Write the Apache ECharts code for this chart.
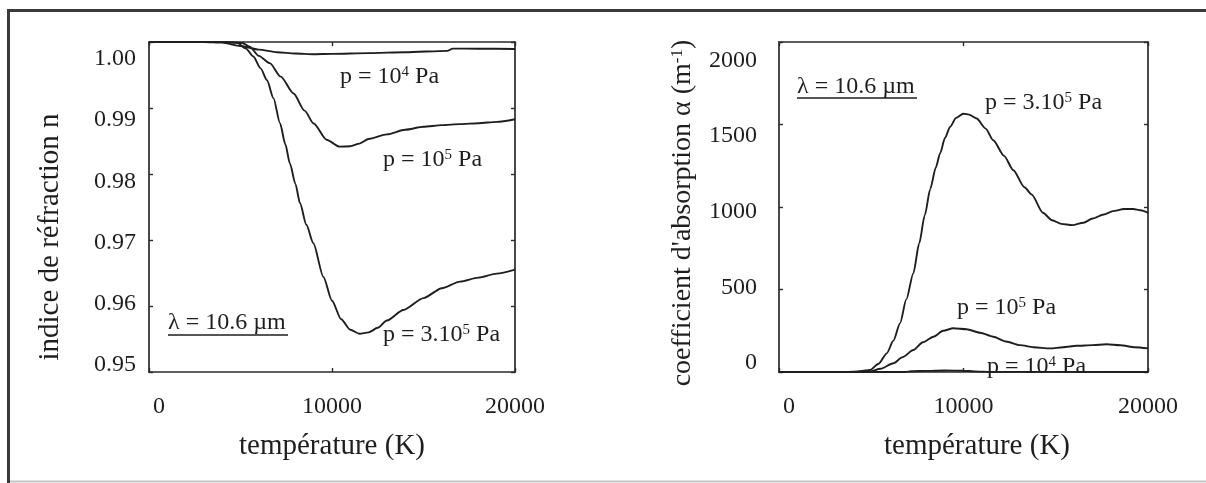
<!DOCTYPE html>
<html>
<head>
<meta charset="utf-8">
<script src="https://cdn.jsdelivr.net/npm/echarts@6/dist/echarts.min.js"></script>
<style>
html,body{margin:0;padding:0;background:#fff;}
#chart{width:1206px;height:483px;}
</style>
</head>
<body>
<div id="chart"></div>
<script>
// ---------- data ----------
// Left panel: refractive index n vs temperature (K)
var tN4 = [0, 3000, 4000, 5000, 6000, 7000, 8000, 9000, 10000, 12000, 14000, 16300, 16600, 18000, 20000];
var nP4 = [1.0000, 1.0000, 0.99990, 0.99940, 0.99885, 0.99845, 0.99825, 0.99815, 0.99820, 0.99832, 0.99845, 0.99866, 0.99900, 0.99898, 0.99895];

var tN5 = [0, 4000, 5100, 5500, 6000, 6600, 7200, 7900, 8500, 9000, 9700, 10400, 11000, 11500, 12000, 13000, 14000, 15000, 16000, 17000, 18000, 19000, 20000];
var nP5 = [1.0000, 1.0000, 0.99985, 0.99930, 0.99790, 0.99680, 0.99475, 0.99220, 0.98960, 0.98765, 0.98520, 0.98415, 0.98420, 0.98460, 0.98530, 0.98600, 0.98670, 0.98715, 0.98740, 0.98755, 0.98770, 0.98790, 0.98830];

var tN3 = [0, 4000, 4800, 5300, 5700, 6100, 6450, 6800, 7160, 7450, 7700, 8000, 8250, 8600, 8980, 9530, 10000, 10500, 11000, 11500, 12000, 12500, 13000, 13900, 15000, 16000, 17000, 18000, 19000, 20000];
var nP3 = [1.0000, 1.0000, 0.99990, 0.99900, 0.99780, 0.99600, 0.99420, 0.99150, 0.98770, 0.98450, 0.98160, 0.97850, 0.97560, 0.97230, 0.96950, 0.96440, 0.96080, 0.95800, 0.95640, 0.95580, 0.95600, 0.95670, 0.95780, 0.95940, 0.96120, 0.96270, 0.96370, 0.96430, 0.96490, 0.96550];

// Right panel: absorption coefficient alpha (m^-1) vs temperature (K)
var tA3 = [0, 3500, 4000, 4500, 4930, 5400, 5840, 6200, 6560, 6900, 7280, 7600, 7900, 8200, 8500, 8730, 9000, 9270, 9600, 9990, 10300, 10710, 11200, 11610, 12200, 12700, 13300, 13700, 14300, 14800, 15300, 15900, 16500, 17000, 17600, 18100, 18700, 19200, 19600, 20000];
var aP3 = [0, 0, 2, 6, 12, 50, 113, 190, 295, 440, 598, 780, 950, 1110, 1240, 1324, 1420, 1485, 1540, 1565, 1560, 1536, 1475, 1405, 1310, 1223, 1120, 1075, 965, 920, 898, 890, 905, 930, 955, 975, 988, 988, 980, 965];

var tA5 = [0, 4500, 4930, 5500, 6200, 6700, 7280, 7800, 8370, 8900, 9450, 10170, 10900, 11610, 12300, 13060, 13800, 14690, 15400, 16130, 17000, 17750, 18500, 19300, 20000];
var aP5 = [0, 0, 3, 20, 53, 90, 133, 180, 214, 250, 265, 259, 238, 214, 185, 163, 150, 143, 150, 159, 163, 168, 162, 150, 143];

var tA4 = [0, 6800, 7200, 8000, 9000, 10000, 10600, 11500, 20000];
var aP4 = [0, 0, 5, 7, 9, 8, 4, 1, 0];

// tick labels
var nTicks = [0.95, 0.96, 0.97, 0.98, 0.99, 1.00];
var aTicks = [0, 500, 1000, 1500, 2000];
var tempTicks = [0, 10000, 20000];

// ---------- chart ----------
function pairs(xs, ys) { return xs.map(function (x, i) { return [x, ys[i]]; }); }

var FONT = 'Liberation Serif';
var INK = '#1e1e1e';
var LINE = '#1e1e1e';

var chart = echarts.init(document.getElementById('chart'), null, {renderer: 'canvas'});

var axLine = {show: true, onZero: false, lineStyle: {color: '#2a2a2a', width: 1.7}};
var axTick = {show: true, inside: true, length: 4, lineStyle: {color: '#2a2a2a', width: 1.4}};

function xAxisBottom(grid, titlePad) {
  return {
    type: 'value', gridIndex: grid, position: 'bottom',
    min: 0, max: 20000, interval: 10000,
    axisLine: axLine, axisTick: axTick,
    splitLine: {show: false},
    axisLabel: {
      show: true, margin: 23, color: INK, fontFamily: FONT, fontSize: 24,
      customValues: tempTicks,
      formatter: function (v) { return v === 0 ? '{z|0}' : String(v); },
      rich: {z: {padding: [0, 0, 0, 20], fontFamily: FONT, fontSize: 24, color: INK}}
    },
    name: 'température (K)', nameLocation: 'middle', nameGap: 60,
    nameTextStyle: {fontFamily: FONT, fontSize: 29, color: INK, padding: [0, 0, 0, titlePad]}
  };
}
function xAxisTop(grid) {
  return {
    type: 'value', gridIndex: grid, position: 'top',
    min: 0, max: 20000, interval: 10000,
    axisLine: axLine, axisTick: axTick,
    splitLine: {show: false}, axisLabel: {show: false}
  };
}
function yMirror(grid, min, max, interval) {
  return {
    type: 'value', gridIndex: grid, position: 'right',
    min: min, max: max, interval: interval,
    axisLine: axLine, axisTick: axTick,
    splitLine: {show: false}, axisLabel: {show: false}
  };
}
function yLabelAxis(grid, min, max, values, digits, margin) {
  return {
    type: 'value', gridIndex: grid, position: 'left',
    min: min, max: max,
    axisLine: {show: false, onZero: false}, axisTick: {show: false}, splitLine: {show: false},
    axisLabel: {
      show: true, customValues: values, margin: margin,
      color: INK, fontFamily: FONT, fontSize: 24,
      formatter: function (v) { return v.toFixed(digits); }
    }
  };
}

var option = {
  backgroundColor: '#ffffff',
  animation: false,
  grid: [
    {left: 149, right: 1206 - 515, top: 42, bottom: 483 - 372, containLabel: false},
    {left: 779, right: 1206 - 1148, top: 42, bottom: 483 - 372, containLabel: false}
  ],
  xAxis: [
    xAxisBottom(0, 0),
    xAxisTop(0),
    xAxisBottom(1, 27),
    xAxisTop(1)
  ],
  yAxis: [
    { // 0: left panel data axis
      type: 'value', gridIndex: 0, position: 'left',
      min: 0.95, max: 1.00, interval: 0.01,
      axisLine: axLine, axisTick: axTick,
      splitLine: {show: false}, axisLabel: {show: false},
      name: 'indice de réfraction n', nameLocation: 'middle', nameGap: 84,
      nameTextStyle: {fontFamily: FONT, fontSize: 29, color: INK, padding: [0, 60, 0, 0]}
    },
    yMirror(0, 0.95, 1.00, 0.01),                                   // 1
    yLabelAxis(0, 0.948856, 1.002778, nTicks, 2, 13),               // 2
    { // 3: right panel data axis
      type: 'value', gridIndex: 1, position: 'left',
      min: 0, max: 2000, interval: 500,
      axisLine: axLine, axisTick: axTick,
      splitLine: {show: false}, axisLabel: {show: false},
      name: "coefficient d'absorption α (m{sup|-1})", nameLocation: 'middle', nameGap: 82,
      nameTextStyle: {
        fontFamily: FONT, fontSize: 28, color: INK, padding: [0, 12, 0, 0],
        rich: {sup: {fontFamily: FONT, fontSize: 17, color: INK, verticalAlign: 'top', lineHeight: 17}}
      }
    },
    yMirror(1, 0, 2000, 500),                                       // 4
    yLabelAxis(1, -59.4, 2120.8, aTicks, 0, 22)                     // 5
  ],
  series: [
    {type: 'line', xAxisIndex: 0, yAxisIndex: 0, data: pairs(tN4, nP4)},
    {type: 'line', xAxisIndex: 0, yAxisIndex: 0, data: pairs(tN5, nP5)},
    {type: 'line', xAxisIndex: 0, yAxisIndex: 0, data: pairs(tN3, nP3)},
    {type: 'line', xAxisIndex: 2, yAxisIndex: 3, data: pairs(tA3, aP3)},
    {type: 'line', xAxisIndex: 2, yAxisIndex: 3, data: pairs(tA5, aP5)},
    {type: 'line', xAxisIndex: 2, yAxisIndex: 3, data: pairs(tA4, aP4)}
  ].map(function (s) {
    s.showSymbol = false; s.symbol = 'none';
    s.smooth = 0.25; s.smoothMonotone = 'x';
    s.lineStyle = {color: LINE, width: 1.9};
    s.z = 3;
    return s;
  }),
  graphic: (function () {
    var supRich = {sup: {fontFamily: FONT, fontSize: 15, color: INK, verticalAlign: 'top', lineHeight: 15}};
    function ann(x, y, text) {
      return {type: 'text', x: x, y: y, z: 100,
        style: {text: text, fill: INK, font: '24px "' + FONT + '"', fontFamily: FONT, fontSize: 24,
          textAlign: 'left', textVerticalAlign: 'middle', rich: supRich}};
    }
    function uline(x1, x2, y) {
      return {type: 'line', z: 100, shape: {x1: x1, y1: y, x2: x2, y2: y}, style: {stroke: INK, lineWidth: 1.6}};
    }
    return [
      // outer frame
      {type: 'line', z: 50, shape: {x1: 7, y1: 10.5, x2: 1206, y2: 10.5}, style: {stroke: '#3a3a3a', lineWidth: 3}},
      {type: 'line', z: 50, shape: {x1: 8.5, y1: 9, x2: 8.5, y2: 483}, style: {stroke: '#3a3a3a', lineWidth: 3}},
      {type: 'line', z: 50, shape: {x1: 10, y1: 481.5, x2: 1206, y2: 481.5}, style: {stroke: '#c4c4c4', lineWidth: 2}},
      // left panel annotations
      ann(340, 77, 'p = 10{sup|4} Pa'),
      ann(383, 160, 'p = 10{sup|5} Pa'),
      ann(383, 335, 'p = 3.10{sup|5} Pa'),
      ann(168, 323, 'λ = 10.6 µm'),
      uline(168, 288, 335),
      // right panel annotations
      ann(797, 87, 'λ = 10.6 µm'),
      uline(797, 917, 98),
      ann(985, 103, 'p = 3.10{sup|5} Pa'),
      ann(957, 308, 'p = 10{sup|5} Pa'),
      ann(987, 367, 'p = 10{sup|4} Pa')
    ];
  })()
};

chart.setOption(option);
</script>
</body>
</html>
